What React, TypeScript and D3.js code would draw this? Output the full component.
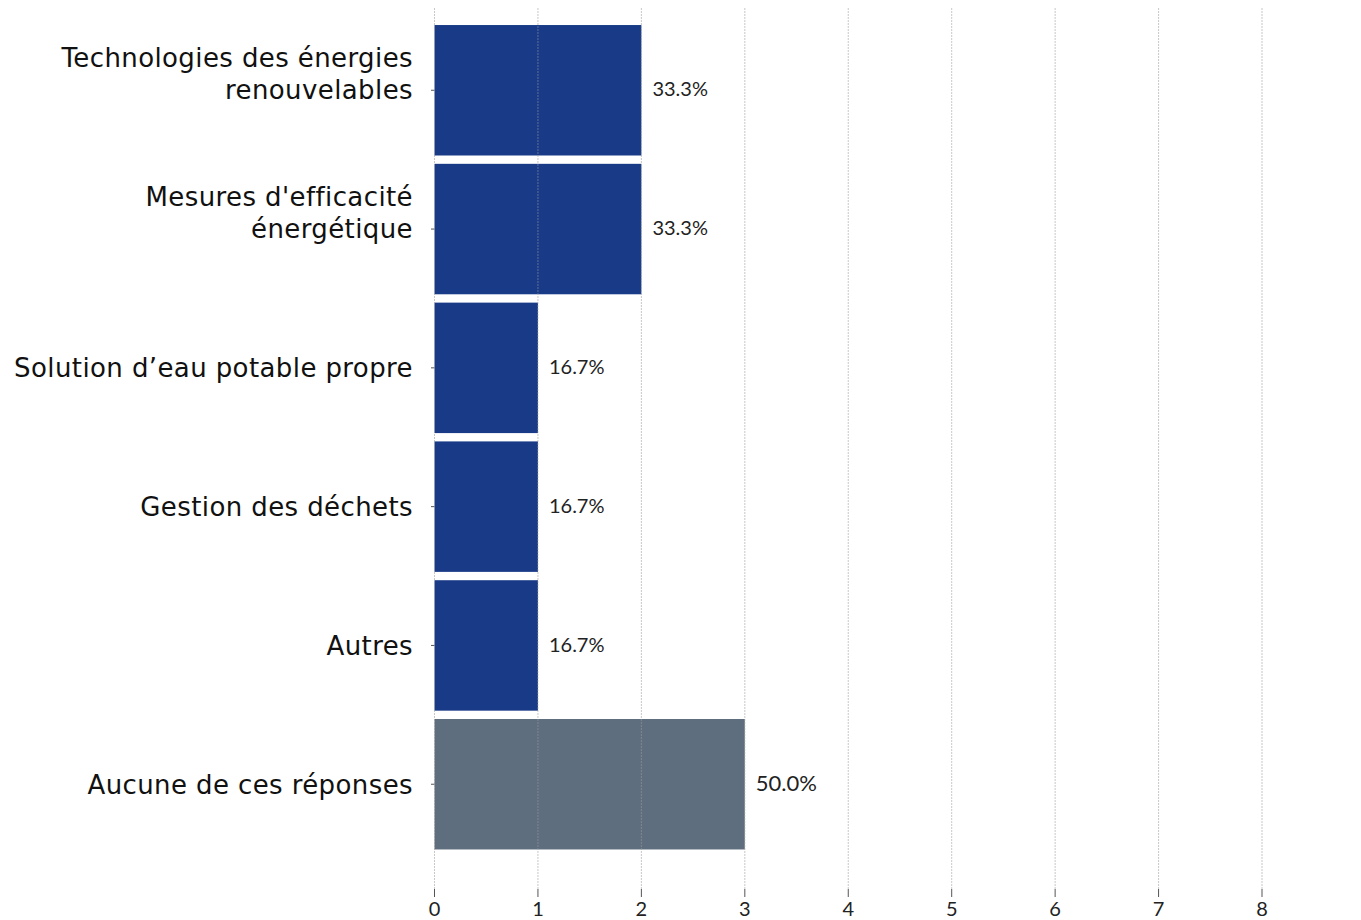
import React from "react";
import * as d3 from "d3";

const categories: string[][] = [
  ["Technologies des énergies", "renouvelables"],
  ["Mesures d'efficacité", "énergétique"],
  ["Solution d’eau potable propre"],
  ["Gestion des déchets"],
  ["Autres"],
  ["Aucune de ces réponses"],
];
const values: number[] = [2, 2, 1, 1, 1, 3];
const percentLabels: string[] = ["33.3%", "33.3%", "16.7%", "16.7%", "16.7%", "50.0%"];
const xTicks: number[] = [0, 1, 2, 3, 4, 5, 6, 7, 8];

const W = 1361;
const H = 920;

export default function App() {
  const x = d3.scaleLinear().domain([0, 8]).range([434.5, 1262]);
  const y = d3
    .scaleBand<number>()
    .domain(d3.range(categories.length))
    .range([16.7, 857.8])
    .paddingInner(0.06)
    .paddingOuter(0.06);
  const bw = y.bandwidth();
  const labelFont = "'DejaVu Sans', 'Open Sans', sans-serif";
  const numFont = "Lato, 'Open Sans', sans-serif";

  return (
    <svg
      width={W}
      height={H}
      style={{ position: "absolute", left: 0, top: 0, background: "#fff" }}
    >
      {/* bars */}
      {values.map((v, i) => (
        <rect
          key={"b" + i}
          x={x(0)}
          y={y(i)!}
          width={x(v) - x(0)}
          height={bw}
          fill={i === values.length - 1 ? "#5f6e7e" : "#193b87"}
        />
      ))}
      {/* grid lines */}
      {xTicks.map((t) => (
        <g key={"g" + t}>
          <line
            x1={x(t)}
            x2={x(t)}
            y1={8}
            y2={890}
            stroke="#9a9a9a"
            strokeOpacity={0.55}
            strokeWidth={1}
            strokeDasharray="2,1"
          />
          <line x1={x(t)} x2={x(t)} y1={889} y2={897} stroke="#555" strokeWidth={1} />
          <text
            x={x(t)}
            y={916}
            textAnchor="middle"
            fontFamily={numFont}
            fontSize={20}
            fill="#222"
          >
            {t}
          </text>
        </g>
      ))}
      {/* category ticks and labels */}
      {categories.map((lines, i) => {
        const cy = y(i)! + bw / 2;
        return (
          <g key={"c" + i}>
            <line x1={431} x2={434.5} y1={cy} y2={cy} stroke="#555" strokeWidth={1} />
            {lines.map((ln, j) => (
              <text
                key={j}
                x={413}
                y={lines.length === 2 ? cy - 31 + j * 32 : cy + 2}
                textAnchor="end"
                dominantBaseline="middle"
                fontFamily={labelFont}
                fontSize={26}
                letterSpacing={0.4}
                fill="#111"
              >
                {ln}
              </text>
            ))}
          </g>
        );
      })}
      {/* value labels */}
      {values.map((v, i) => (
        <text
          key={"v" + i}
          x={x(v) + 11}
          y={y(i)! + bw / 2 + 1}
          dominantBaseline="middle"
          fontFamily={numFont}
          fontSize={i === values.length - 1 ? 22 : 20}
          fill="#222"
        >
          {percentLabels[i]}
        </text>
      ))}
    </svg>
  );
}
